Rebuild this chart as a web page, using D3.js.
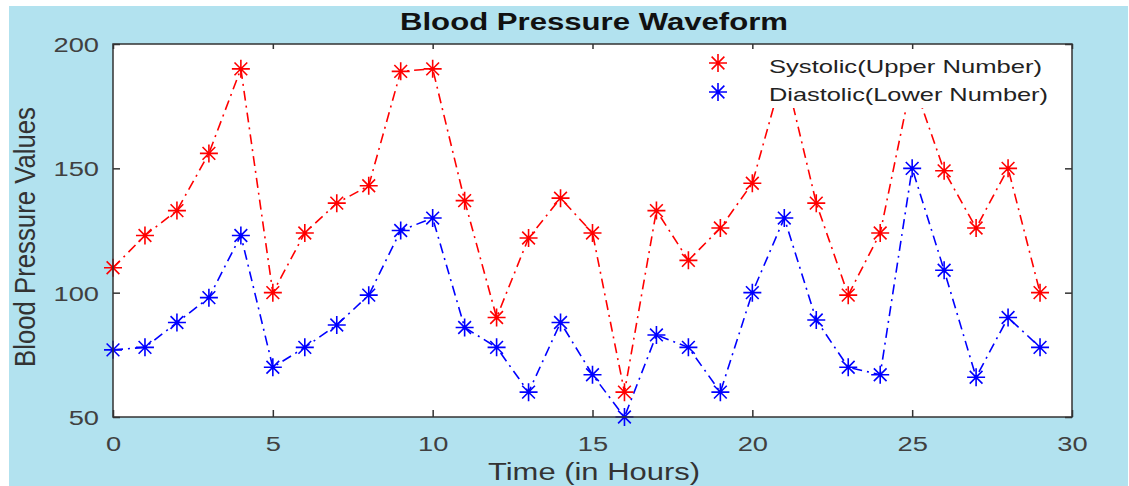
<!DOCTYPE html>
<html>
<head>
<meta charset="utf-8">
<script src="https://cdn.jsdelivr.net/npm/d3@7"></script>
<style>
  html, body { margin: 0; padding: 0; background: #fff; }
  svg { display: block; font-family: "Liberation Sans", Arial, sans-serif; }
</style>
</head>
<body>
<svg id="chart" width="1129" height="486"></svg>
<script>
// data
const hours = [0,1,2,3,4,5,6,7,8,9,10,11,12,13,14,15,16,17,18,19,20,21,22,23,24,25,26,27,28,29];
const systolic = [110,123,133,156,190,100,124,136,143,189,190,137,90,122,138,124,60,133,113,126,144,190,136,99,124,186,149,126,150,100];
const diastolic = [77,78,88,98,123,70,78,87,99,125,130,86,78,60,88,67,50,83,78,60,100,130,89,70,67,150,109,66,90,78];
const xTicks = [0,5,10,15,20,25,30];
const yTicks = [50,100,150,200];

const series = [
  { name: "Systolic(Upper Number)", values: systolic, color: "#ff0000" },
  { name: "Diastolic(Lower Number)", values: diastolic, color: "#0000ff" }
];

const W = 1129, H = 486;
const box = { left: 113, top: 44, right: 1072, bottom: 417 };
const stretch = 1.3;   // picture looks horizontally stretched

const svg = d3.select("#chart");

// background (white strip top/left like the picture)
svg.append("rect").attr("x", 0).attr("y", 0).attr("width", W).attr("height", H).attr("fill", "#fff");
svg.append("rect").attr("x", 9).attr("y", 6).attr("width", W - 10).attr("height", H - 6).attr("fill", "#b2e2ef");

const x = d3.scaleLinear().domain([0, 30]).range([box.left, box.right]);
const y = d3.scaleLinear().domain([50, 200]).range([box.bottom, box.top]);

// plot area
svg.append("rect")
  .attr("x", box.left).attr("y", box.top)
  .attr("width", box.right - box.left).attr("height", box.bottom - box.top)
  .attr("fill", "#fff");

// axes (ticks inside, matlab style)
function styleAxis(g) {
  g.select(".domain").remove();
  g.selectAll(".tick line").attr("stroke", "#333").attr("stroke-width", 1.5);
}

const gx = svg.append("g")
  .attr("transform", `translate(0,${box.bottom})`)
  .call(d3.axisBottom(x).tickValues(xTicks).tickSize(-7).tickPadding(0).tickFormat(d3.format("d")))
  .call(styleAxis);
gx.selectAll(".tick text")
  .attr("y", 0).attr("dy", 34)
  .attr("font-size", 21).attr("fill", "#404040")
  .attr("transform", `scale(${stretch},1)`);

const gy = svg.append("g")
  .attr("transform", `translate(${box.left},0)`)
  .call(d3.axisLeft(y).tickValues(yTicks).tickSize(-7).tickPadding(0))
  .call(styleAxis);
gy.selectAll(".tick text")
  .attr("x", -14 / stretch).attr("dy", "0.36em")
  .attr("font-size", 21).attr("fill", "#404040")
  .attr("transform", `scale(${stretch},1)`);

svg.append("g")
  .attr("transform", `translate(0,${box.top})`)
  .call(d3.axisTop(x).tickValues(xTicks).tickSize(-5).tickFormat(""))
  .call(styleAxis);
svg.append("g")
  .attr("transform", `translate(${box.right},0)`)
  .call(d3.axisRight(y).tickValues(yTicks).tickSize(-7).tickFormat(""))
  .call(styleAxis);

// lines
const line = d3.line().x((d, i) => x(hours[i])).y(d => y(d));

const plot = svg.append("g");
series.forEach(s => {
  plot.append("path")
    .datum(s.values)
    .attr("fill", "none")
    .attr("stroke", s.color)
    .attr("stroke-width", 1.6)
    .attr("stroke-dasharray", "10,5,2,5")
    .attr("d", line);
});

// asterisk markers
function star(sel, r) {
  const a = r * Math.SQRT1_2;
  sel.append("path")
    .attr("d", `M${-r},0H${r}M0,${-r}V${r}M${-a},${-a}L${a},${a}M${-a},${a}L${a},${-a}`)
    .attr("fill", "none")
    .attr("stroke-width", 1.6);
}

series.forEach(s => {
  plot.selectAll(null)
    .data(s.values)
    .join("g")
    .attr("transform", (d, i) => `translate(${x(hours[i])},${y(d)})`)
    .attr("stroke", s.color)
    .each(function () { star(d3.select(this), 9); });
});

// legend (white box hides lines under it)
const legend = svg.append("g");
legend.append("rect")
  .attr("x", 698).attr("y", 50).attr("width", 365).attr("height", 58)
  .attr("fill", "#fff");
series.forEach((s, i) => {
  const row = legend.append("g").attr("transform", `translate(0,${63 + i * 29})`);
  row.append("g").attr("transform", "translate(718,0)").attr("stroke", s.color)
    .each(function () { star(d3.select(this), 9); });
  row.append("text")
    .attr("x", 769).attr("y", 10 - i * 1)
    .attr("font-size", 19).attr("fill", "#222")
    .attr("textLength", i === 0 ? 273 : 279)
    .attr("lengthAdjust", "spacingAndGlyphs")
    .text(s.name);
});

// border on top
svg.append("rect")
  .attr("x", box.left).attr("y", box.top)
  .attr("width", box.right - box.left).attr("height", box.bottom - box.top)
  .attr("fill", "none").attr("stroke", "#333").attr("stroke-width", 1.5);

// titles
svg.append("text")
  .attr("x", 594).attr("y", 30)
  .attr("text-anchor", "middle")
  .attr("font-size", 23).attr("font-weight", "bold").attr("fill", "#111")
  .attr("textLength", 388).attr("lengthAdjust", "spacingAndGlyphs")
  .text("Blood Pressure Waveform");

svg.append("text")
  .attr("x", 594).attr("y", 480)
  .attr("text-anchor", "middle")
  .attr("font-size", 23).attr("fill", "#333")
  .attr("textLength", 212).attr("lengthAdjust", "spacingAndGlyphs")
  .text("Time (in Hours)");

svg.append("text")
  .attr("transform", `translate(35,237) scale(${stretch},1) rotate(-90)`)
  .attr("text-anchor", "middle")
  .attr("font-size", 22).attr("fill", "#333")
  .attr("textLength", 260).attr("lengthAdjust", "spacingAndGlyphs")
  .text("Blood Pressure Values");
</script>
</body>
</html>
